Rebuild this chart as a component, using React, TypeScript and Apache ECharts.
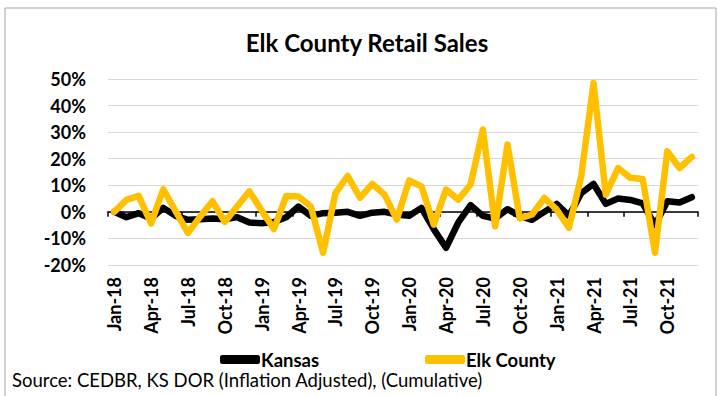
import React, { useEffect, useRef } from "react";
import * as echarts from "echarts";

const months: string[] = [];
const monthNames = ["Jan", "Feb", "Mar", "Apr", "May", "Jun", "Jul", "Aug", "Sep", "Oct", "Nov", "Dec"];
["18", "19", "20", "21"].forEach((yy) => monthNames.forEach((m) => months.push(`${m}-${yy}`)));

const kansas = [
  0, -2, -0.5, -2.5, 1.5, -1.5, -3, -2.8, -2.5, -2.8, -2, -4,
  -4.3, -3.8, -2, 2, -1.5, -0.5, -0.3, 0, -1.5, -0.3, 0, -1,
  -1.5, 1.5, -6.5, -13.5, -4, 2.5, -1.5, -2.5, 1, -1.5, -3, 0,
  3, -1.5, 7, 10.5, 3, 5, 4.5, 3.2, -5, 4, 3.5, 5.5,
];

const elkCounty = [
  0, 4.5, 6, -4.4, 8.5, 0.3, -7.9, -1.8, 4, -3.8, 2, 7.7,
  0.5, -6.5, 6, 5.8, 2, -15.4, 7, 13.5, 5.3, 10.5, 6.5, -2.9,
  11.8, 9.6, -4.8, 8.4, 4.6, 10.3, 31, -5.4, 25.3, -2.5, -1, 5.2,
  0.9, -6, 13.4, 48.5, 6.5, 16.5, 12.8, 12.4, -15.4, 22.8, 16.5, 20.7,
];

const seriesNames = ["Kansas", "Elk County"];
const title = "Elk County Retail Sales";
const sourceNote = "Source: CEDBR, KS DOR (Inflation Adjusted), (Cumulative)";

const FONT = "Lato, 'Liberation Sans', sans-serif";

export default function App() {
  const ref = useRef<HTMLDivElement>(null);
  useEffect(() => {
    if (!ref.current) return;
    const chart = echarts.init(ref.current, undefined, { renderer: "svg" });
    chart.setOption({
      animation: false,
      backgroundColor: "#ffffff",
      textStyle: { fontFamily: FONT },
      title: {
        text: title,
        left: 362,
        textAlign: "center",
        top: 25,
        textStyle: { fontFamily: FONT, fontSize: 24, fontWeight: "bold", color: "#000" },
      },
      graphic: [
        {
          type: "rect",
          shape: { x: 5, y: 8, width: 711, height: 420 },
          style: { fill: "none", stroke: "#a6a6a6", lineWidth: 1 },
          silent: true,
        },
        {
          type: "text",
          left: 12,
          top: 370,
          style: { text: sourceNote, font: `18.5px ${FONT}`, fill: "#000" },
        },
      ],
      legend: [
        {
          data: [seriesNames[0]],
          left: 215,
          top: 345,
          icon: "roundRect",
          itemWidth: 40,
          itemHeight: 9,
          itemGap: 4,
          textStyle: { fontFamily: FONT, fontSize: 18.5, fontWeight: "bold", color: "#000", padding: [0, 0, 0, -4] },
        },
        {
          data: [seriesNames[1]],
          left: 420,
          top: 345,
          icon: "roundRect",
          itemWidth: 40,
          itemHeight: 9,
          textStyle: { fontFamily: FONT, fontSize: 18.5, fontWeight: "bold", color: "#000", padding: [0, 0, 0, -4] },
        },
      ],
      grid: { left: 108, right: 23, top: 79, bottom: 131, containLabel: false },
      xAxis: [
        {
          type: "category",
          data: months,
          boundaryGap: true,
          position: "bottom",
          axisLine: { show: false, onZero: false },
          axisTick: { show: false },
          splitLine: { show: false },
          axisLabel: {
            interval: 2,
            rotate: 90,
            margin: 12,
            fontFamily: FONT,
            fontSize: 18,
            fontWeight: "bold",
            color: "#000",
          },
        },
        {
          type: "category",
          data: months,
          boundaryGap: true,
          position: "bottom",
          axisLine: { show: true, onZero: true, lineStyle: { color: "#000", width: 1.5 } },
          axisTick: { show: true, interval: 2, length: 5, lineStyle: { color: "#000", width: 1.5 } },
          axisLabel: { show: false },
          splitLine: { show: false },
        },
      ],
      yAxis: {
        type: "value",
        min: -20,
        max: 50,
        interval: 10,
        axisLine: { show: false },
        axisTick: { show: false },
        splitLine: { lineStyle: { color: "#d9d9d9", width: 1 } },
        axisLabel: {
          formatter: "{value}%",
          margin: 22,
          fontFamily: FONT,
          fontSize: 18,
          fontWeight: "bold",
          color: "#000",
        },
      },
      series: [
        {
          name: seriesNames[0],
          type: "line",
          data: kansas,
          xAxisIndex: 0,
          showSymbol: false,
          symbol: "none",
          itemStyle: { color: "#000000" },
          lineStyle: { color: "#000000", width: 6.5, cap: "round", join: "round" },
        },
        {
          name: seriesNames[1],
          type: "line",
          data: elkCounty,
          xAxisIndex: 0,
          showSymbol: false,
          symbol: "none",
          itemStyle: { color: "#ffc000" },
          lineStyle: { color: "#ffc000", width: 6.5, cap: "round", join: "round" },
        },
      ],
    });
    return () => chart.dispose();
  }, []);
  return (
    <div
      ref={ref}
      style={{ position: "fixed", left: 0, top: 0, width: 721, height: 396 }}
    />
  );
}
